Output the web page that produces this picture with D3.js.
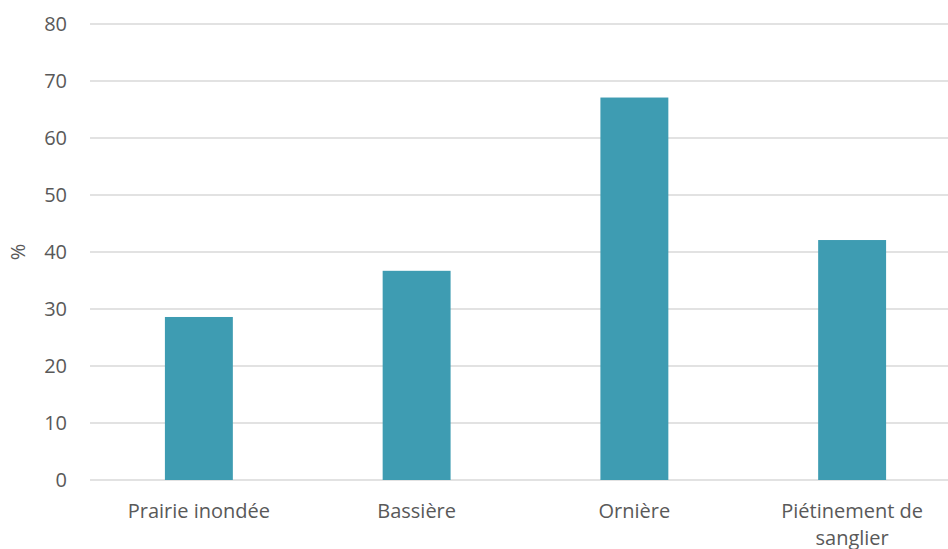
<!DOCTYPE html>
<html>
<head>
<script src="https://cdnjs.cloudflare.com/ajax/libs/d3/7.8.5/d3.min.js"></script>
<style>
  body { margin: 0; background: #fff; }
  text { font-family: "Open Sans", sans-serif; fill: #595959; }
</style>
</head>
<body>
<div id="vis"></div>
<script>
var categories = ["Prairie inondée", "Bassière", "Ornière", "Piétinement de sanglier"];
var values = [28.6, 36.7, 67.1, 42.1];
var yTicks = [0, 10, 20, 30, 40, 50, 60, 70, 80];

var w = 948, h = 549;
var m = {left: 90, right: 961, top: 24, bottom: 480};

const svg = d3.select("#vis").append("svg")
    .attr("width", w).attr("height", h)
    .attr("viewBox", [0, 0, w, h]);

var x = d3.scaleBand().domain(categories).range([m.left, m.right]).padding(0);
var y = d3.scaleLinear().domain([0, 80]).range([m.bottom, m.top]);
var barW = x.bandwidth() * 0.312;

// gridlines
svg.append("g").selectAll("line").data(yTicks).join("line")
    .attr("x1", m.left).attr("x2", m.right)
    .attr("y1", d => y(d)).attr("y2", d => y(d))
    .attr("stroke", "#d9d9d9").attr("stroke-width", 1.3);

// y tick labels
svg.append("g").selectAll("text").data(yTicks).join("text")
    .attr("x", 67).attr("y", d => y(d))
    .attr("dy", "0.35em")
    .attr("text-anchor", "end")
    .style("font-size", "20px")
    .text(d => d);

// bars
svg.append("g").selectAll("rect").data(values).join("rect")
    .attr("x", (d, i) => x(categories[i]) + (x.bandwidth() - barW) / 2)
    .attr("y", d => y(d))
    .attr("width", barW)
    .attr("height", d => y(0) - y(d))
    .attr("fill", "#3e9cb2");

// category labels (wrapped like the original)
var labelLines = [["Prairie inondée"], ["Bassière"], ["Ornière"], ["Piétinement de", "sanglier"]];
svg.append("g").selectAll("text").data(categories).join("text")
    .attr("text-anchor", "middle")
    .style("font-size", "20px")
    .each(function (d, i) {
        var t = d3.select(this);
        labelLines[i].forEach((ln, k) => {
            t.append("tspan")
                .attr("x", x(d) + x.bandwidth() / 2)
                .attr("y", 518 + k * 27)
                .text(ln);
        });
    });

// y axis title
svg.append("text")
    .attr("transform", "translate(25," + y(40) + ") rotate(-90)")
    .attr("text-anchor", "middle")
    .style("font-size", "20px")
    .text("%");
</script>
</body>
</html>
